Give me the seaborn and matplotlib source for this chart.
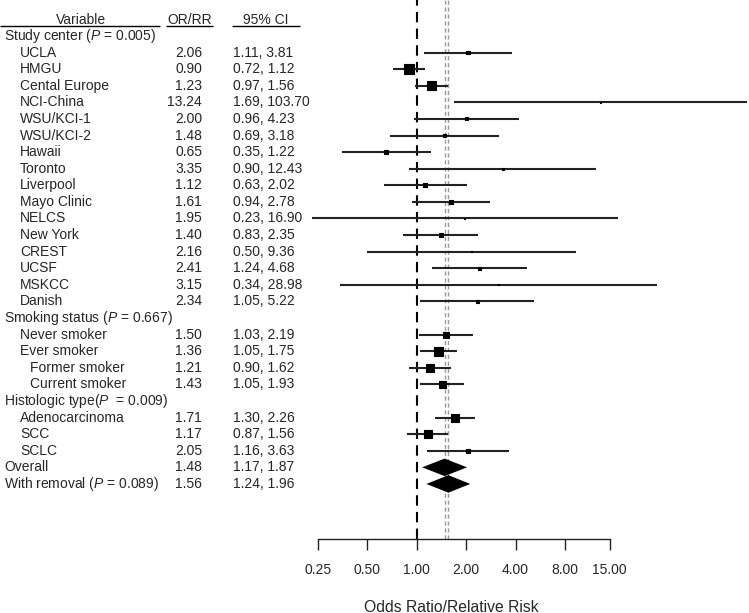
import numpy as np
import pandas as pd
import matplotlib
matplotlib.use("Agg")
import matplotlib.pyplot as plt
import matplotlib.transforms as mtransforms
import seaborn as sns

# Forest plot data (OR/RR with 95% CI)
labels = [
    "Study center ($P$ = 0.005)",
    "UCLA", "HMGU", "Cental Europe", "NCI-China", "WSU/KCI-1", "WSU/KCI-2",
    "Hawaii", "Toronto", "Liverpool", "Mayo Clinic", "NELCS", "New York",
    "CREST", "UCSF", "MSKCC", "Danish",
    "Smoking status ($P$ = 0.667)",
    "Never smoker", "Ever smoker", "Former smoker", "Current smoker",
    "Histologic type($P$  = 0.009)",
    "Adenocarcinoma", "SCC", "SCLC",
    "Overall", "With removal ($P$ = 0.089)",
]
levels = [0] + [1] * 16 + [0] + [1, 1, 2, 2] + [0] + [1, 1, 1] + [0, 0]
kinds = (["group"] + ["study"] * 16 + ["group"] + ["study"] * 4 + ["group"]
         + ["study"] * 3 + ["summary"] * 2)
or_rr = [np.nan, 2.06, 0.90, 1.23, 13.24, 2.00, 1.48, 0.65, 3.35, 1.12, 1.61,
         1.95, 1.40, 2.16, 2.41, 3.15, 2.34,
         np.nan, 1.50, 1.36, 1.21, 1.43,
         np.nan, 1.71, 1.17, 2.05,
         1.48, 1.56]
ci_lo = [np.nan, 1.11, 0.72, 0.97, 1.69, 0.96, 0.69, 0.35, 0.90, 0.63, 0.94,
         0.23, 0.83, 0.50, 1.24, 0.34, 1.05,
         np.nan, 1.03, 1.05, 0.90, 1.05,
         np.nan, 1.30, 0.87, 1.16,
         1.17, 1.24]
ci_hi = [np.nan, 3.81, 1.12, 1.56, 103.70, 4.23, 3.18, 1.22, 12.43, 2.02, 2.78,
         16.90, 2.35, 9.36, 4.68, 28.98, 5.22,
         np.nan, 2.19, 1.75, 1.62, 1.93,
         np.nan, 2.26, 1.56, 3.63,
         1.87, 1.96]
tick_vals = [0.25, 0.5, 1, 2, 4, 8, 15]
tick_labels = ["0.25", "0.50", "1.00", "2.00", "4.00", "8.00", "15.00"]

df = pd.DataFrame({"label": labels, "level": levels, "kind": kinds,
                   "est": or_rr, "lo": ci_lo, "hi": ci_hi})
df["row"] = np.arange(len(df))
# inverse-variance weights for the square sizes
se = (np.log(df["hi"]) - np.log(df["lo"])) / (2 * 1.96)
df["w"] = 1 / se ** 2

sns.set_style("white")
plt.rcParams["font.family"] = ["Liberation Sans", "DejaVu Sans"]
plt.rcParams["mathtext.fontset"] = "custom"
plt.rcParams["mathtext.rm"] = "Liberation Sans"
plt.rcParams["mathtext.it"] = "Liberation Sans:italic"

W, H = 749, 613
fig = plt.figure(figsize=(W / 100, H / 100), dpi=100)
ax = fig.add_axes([0, (H - 539) / H, 1, 539 / H])

row_px = 16.59
top_px = 36
ax.set_xscale("log", base=2)
ax.set_xlim(2 ** (-416.7 / 49.4), 2 ** ((W - 416.7) / 49.4))
ax.set_ylim((539 - top_px) / row_px, (0 - top_px) / row_px)

# reference lines
ax.axvline(1, color="black", lw=1.5, dashes=(5, 3), zorder=1)
for v in df.loc[df["kind"] == "summary", "est"]:
    ax.axvline(v, color="#9a9a9a", lw=1, dashes=(3, 2), zorder=1)

# confidence intervals + squares
studies = df[df["kind"] == "study"]
ax.hlines(studies["row"], studies["lo"], studies["hi"], color="#222222",
          lw=1.5, zorder=2)
k = 0.68
sns.scatterplot(data=studies, x="est", y="row", size="w",
                sizes=(k * studies["w"].min(), k * studies["w"].max()),
                size_norm=(studies["w"].min(), studies["w"].max()),
                marker="s", color="black", edgecolor="black", linewidth=0.8,
                legend=False, ax=ax, zorder=3)

# summary diamonds
h = 6.5 / row_px
for _, r in df[df["kind"] == "summary"].iterrows():
    ax.fill([r["lo"], r["est"], r["hi"], r["est"]],
            [r["row"], r["row"] - h, r["row"], r["row"] + h],
            facecolor="black", edgecolor="black", lw=3, joinstyle="miter",
            zorder=3)

# table text
trans = mtransforms.blended_transform_factory(fig.transFigure, ax.transData)
indent_px = {0: 4, 1: 20, 2: 30}
for _, r in df.iterrows():
    ax.text(indent_px[r["level"]] / W, r["row"], r["label"], transform=trans,
            ha="left", va="center", fontsize=10)
    if r["kind"] != "group":
        ax.text(202 / W, r["row"], f"{r['est']:.2f}", transform=trans,
                ha="right", va="center", fontsize=10)
        ax.text(233 / W, r["row"], f"{r['lo']:.2f}, {r['hi']:.2f}",
                transform=trans, ha="left", va="center", fontsize=10)

# column headers with underlines
hy = -0.95
ax.text(81 / W, hy, "Variable", transform=trans, ha="center", va="center",
        fontsize=10)
ax.text(190 / W, hy, "OR/RR", transform=trans, ha="center", va="center",
        fontsize=10)
ax.text(265.5 / W, hy, "95% CI", transform=trans, ha="center", va="center",
        fontsize=10)
for x0, x1 in [(0, 160), (166, 213), (232, 300)]:
    ax.hlines(-0.6, x0 / W, x1 / W, transform=trans, color="black", lw=1)

# x axis
sns.despine(ax=ax, left=True)
ax.spines["bottom"].set_bounds(0.25, 15)
ax.spines["bottom"].set_linewidth(1)
ax.spines["bottom"].set_color("#222222")
ax.set_xticks(tick_vals)
ax.set_xticklabels(tick_labels, fontsize=10)
ax.minorticks_off()
ax.tick_params(axis="x", direction="out", length=8, width=1, pad=9,
               color="#222222", bottom=True)
ax.set_yticks([])
ax.set_xlabel("")
ax.set_ylabel("")
fig.text(451 / W, 1 - 607 / H, "Odds Ratio/Relative Risk", ha="center",
         va="center", fontsize=11.3)

fig.savefig("out.png", dpi=100)
